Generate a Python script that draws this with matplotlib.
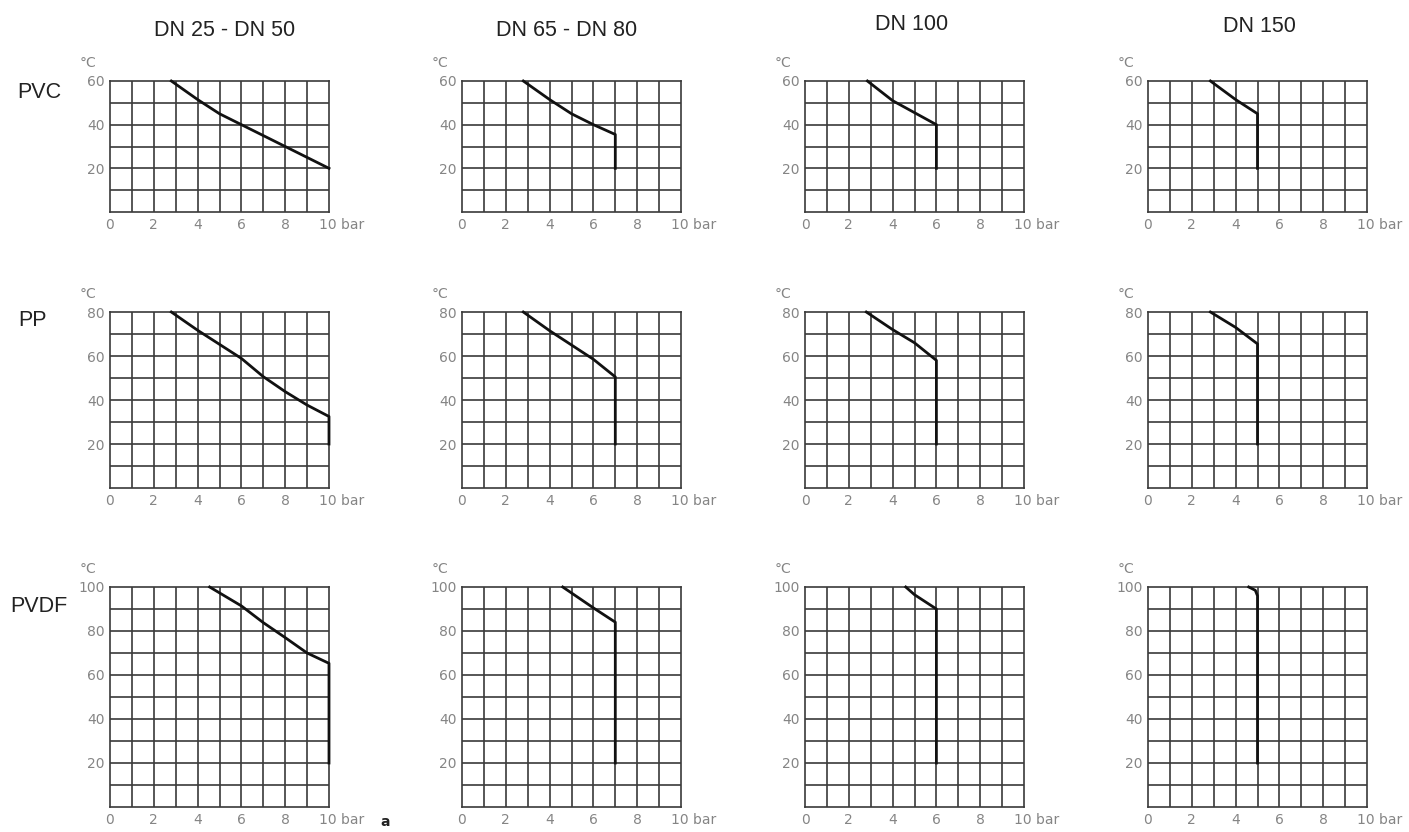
import matplotlib.pyplot as plt

W, H = 1409, 832

columns = ['DN 25 - DN 50', 'DN 65 - DN 80', 'DN 100', 'DN 150']
materials = ['PVC', 'PP', 'PVDF']
t_max = [60, 80, 100]

# limit curves: pressure (bar) vs temperature (°C), one list per DN column
bar_pvc = [[2.8, 4, 5, 6, 7, 8, 9, 10],
           [2.8, 4, 5, 6, 7, 7],
           [2.85, 4, 5, 6, 6],
           [2.85, 4, 5, 5]]
temp_pvc = [[60, 51.5, 45, 40, 35, 30, 25, 20],
            [60, 51.5, 45, 40, 35.5, 20],
            [60, 51, 45.5, 40, 20],
            [60, 51.5, 45, 20]]

bar_pp = [[2.8, 4, 5, 6, 7, 8, 9, 10, 10],
          [2.8, 4, 5, 6, 7, 7],
          [2.8, 4, 5, 6, 6],
          [2.85, 4, 5, 5]]
temp_pp = [[80, 71.7, 65.3, 58.9, 50.6, 43.8, 37.7, 32.5, 20],
           [80, 71.5, 65, 58.5, 50.5, 20],
           [80, 72, 66, 58, 20],
           [80, 73, 65.5, 20]]

bar_pvdf = [[4.55, 6, 7, 8, 9, 10, 10],
            [4.6, 6, 7, 7],
            [4.6, 5, 6, 6],
            [4.6, 4.9, 5, 5]]
temp_pvdf = [[100, 91.4, 83.8, 77, 70, 65.3, 20],
             [100, 90.5, 84, 20],
             [100, 96.5, 90, 20],
             [100, 98.5, 96, 20]]

bars = [bar_pvc, bar_pp, bar_pvdf]
temps = [temp_pvc, temp_pp, temp_pvdf]

x_ticks = [0, 2, 4, 6, 8]

# layout in pixels
col_left = [110, 462, 805, 1148]
row_top = [81, 312, 587]
row_bottom = [212, 488, 807]
ax_w = 219

grid_col = '#3a3a3a'
label_col = '#858585'

fig = plt.figure(figsize=(W / 100, H / 100), dpi=100)

for r in range(3):
    for c in range(4):
        left = col_left[c] / W
        bottom = 1 - row_bottom[r] / H
        height = (row_bottom[r] - row_top[r]) / H
        ax = fig.add_axes([left, bottom, ax_w / W, height])
        ax.set_xlim(0, 10)
        ax.set_ylim(0, t_max[r])
        for x in range(1, 10):
            ax.axvline(x, color=grid_col, lw=1.2, zorder=1)
        for y in range(10, t_max[r], 10):
            ax.axhline(y, color=grid_col, lw=1.2, zorder=1)
        for s in ax.spines.values():
            s.set_color(grid_col)
            s.set_linewidth(1.2)
        ax.plot(bars[r][c], temps[r][c], color='#111111', lw=2.0, zorder=3,
                solid_joinstyle='round', clip_on=False)
        ax.set_xticks(x_ticks, [str(v) for v in x_ticks])
        ax.set_yticks(list(range(20, t_max[r] + 1, 20)))
        ax.tick_params(length=0, labelsize=10, labelcolor=label_col, pad=4)
        ax.annotate('10 bar', xy=(10, 0), xytext=(-7, -4), textcoords='offset points',
                    ha='left', va='top', fontsize=10, color=label_col)
        ax.annotate('°C', xy=(0, t_max[r]), xytext=(-16, 8), textcoords='offset points',
                    ha='center', va='bottom', fontsize=10, color=label_col)

title_x = [225, 567, 912, 1259]
title_y = [30, 31, 25, 27]
for c in range(4):
    fig.text(title_x[c] / W, 1 - title_y[c] / H, columns[c], ha='center', va='center',
             fontsize=15.5, family='Liberation Sans', color='#222222')

mat_x = [17, 18, 10]
mat_y = [92, 321, 606]
for r in range(3):
    fig.text(mat_x[r] / W, 1 - mat_y[r] / H, materials[r], ha='left', va='center',
             fontsize=15.5, family='Liberation Sans', color='#222222')

fig.text(385 / W, 1 - 822 / H, 'a', ha='center', va='center', fontsize=10,
         fontweight='bold', color='#222222')

fig.savefig('out.png', dpi=100)
